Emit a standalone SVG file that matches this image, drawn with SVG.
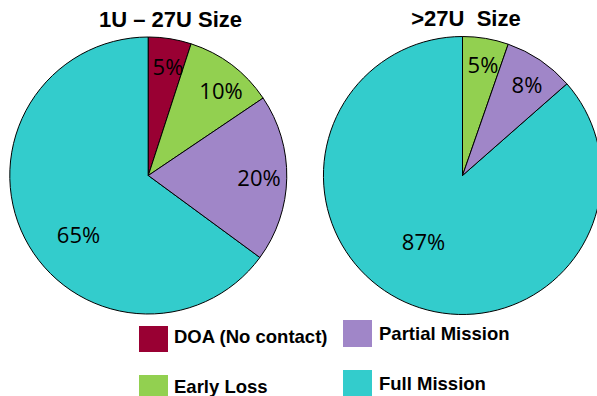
<svg xmlns="http://www.w3.org/2000/svg" width="597" height="396" viewBox="0 0 597 396">
<style>
.sl{stroke:#000;stroke-width:1;stroke-linejoin:round}
.doa{fill:#990033}
.early{fill:#92D050}
.part{fill:#A086C8}
.full{fill:#33CCCC}
.pct{font-family:"Open Sans","Noto Sans",sans-serif;font-size:22px;fill:#000;text-anchor:middle}
.ttl{font-family:"Liberation Sans",Arial,sans-serif;font-weight:bold;font-size:22px;fill:#000;text-anchor:middle;white-space:pre}
.lg{font-family:"Liberation Sans",Arial,sans-serif;font-weight:bold;font-size:18.5px;fill:#000}
</style>
<rect width="597" height="396" fill="#fff"/>
<g id="pie-small">
<text class="ttl" x="170.5" y="26.5">1U – 27U Size</text>
<path class="sl full" d="M148.3,175.5 L259.9,257.5 A138.5,138.5 0 1 1 148.3,37 Z"/>
<path class="sl doa" d="M148.3,175.5 L148.3,37 A138.5,138.5 0 0 1 191.1,43.8 Z"/>
<path class="sl early" d="M148.3,175.5 L191.1,43.8 A138.5,138.5 0 0 1 263.1,98.05 Z"/>
<path class="sl part" d="M148.3,175.5 L263.1,98.05 A138.5,138.5 0 0 1 259.9,257.5 Z"/>
<text class="pct" x="168" y="75">5%</text>
<text class="pct" x="221" y="99">10%</text>
<text class="pct" x="259" y="186">20%</text>
<text class="pct" x="78.5" y="243">65%</text>
</g>
<g id="pie-large">
<text class="ttl" x="466" y="26">&gt;27U  Size</text>
<path class="sl full" d="M462.5,175.5 L566.9,83.8 A139,139 0 1 1 462.5,36.5 Z"/>
<path class="sl early" d="M462.5,175.5 L462.5,36.5 A139,139 0 0 1 508.2,44.2 Z"/>
<path class="sl part" d="M462.5,175.5 L508.2,44.2 A139,139 0 0 1 566.9,83.8 Z"/>
<text class="pct" x="483" y="73">5%</text>
<text class="pct" x="527" y="93">8%</text>
<text class="pct" x="423.5" y="250">87%</text>
</g>
<g id="legend-doa">
<rect class="doa" x="139" y="326" width="29" height="26"/>
<text class="lg" x="174" y="342.5">DOA (No contact)</text>
</g>
<g id="legend-early">
<rect class="early" x="139" y="375" width="29" height="26"/>
<text class="lg" x="174" y="393">Early Loss</text>
</g>
<g id="legend-partial">
<rect class="part" x="343" y="320" width="29" height="27"/>
<text class="lg" x="379" y="339.5">Partial Mission</text>
</g>
<g id="legend-full">
<rect class="full" x="343" y="370" width="29" height="26"/>
<text class="lg" x="379" y="390">Full Mission</text>
</g>
<g id="connectors"/>
</svg>
